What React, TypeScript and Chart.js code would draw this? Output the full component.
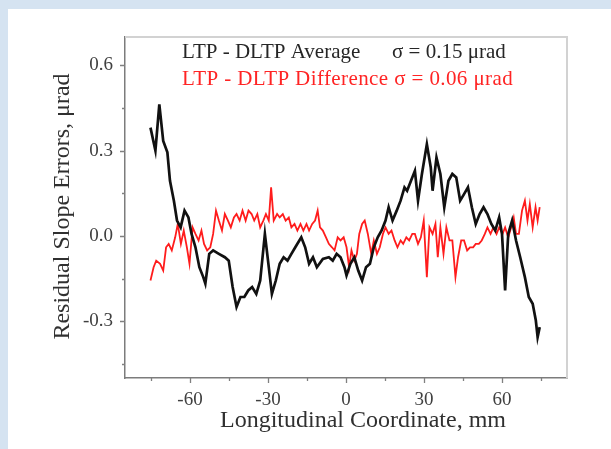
import React, { useEffect, useRef } from 'react';
import { Chart, registerables } from 'chart.js';

Chart.register(...registerables);

// ---- Data ----
const avgX = [
  -75.2, -73.3, -71.8, -70.3, -68.7, -67.7, -66.2, -65.0, -63.6, -62.1,
  -60.6, -59.4, -57.9, -56.4, -54.9, -54.1, -52.6, -51.1, -48.9, -46.6,
  -45.1, -43.6, -42.1, -40.6, -39.1, -37.6, -36.1, -34.5, -33.0, -31.2,
  -29.7, -28.5, -27.0, -25.5, -24.0, -22.5, -21.0, -19.5, -17.2, -15.7,
  -14.2, -12.7, -11.2, -8.9, -6.6, -5.1, -3.6, -2.1, -0.6, 0.2,
  1.7, 3.2, 4.7, 6.2, 7.7, 9.2, 10.7, 12.2, 13.7, 15.2,
  16.4, 17.9, 19.5, 21.0, 22.5, 23.5, 25.0, 26.5, 27.7, 29.2,
  31.1, 32.6, 33.3, 34.8, 36.3, 37.8, 39.4, 40.9, 42.4, 43.9,
  45.4, 46.9, 48.4, 49.9, 51.4, 52.9, 54.4, 55.9, 57.4, 58.9,
  60.0, 61.2, 62.4, 63.9, 65.4, 67.0, 68.8, 70.3, 71.8, 73.0,
  73.7, 74.5,
];
const avgY = [
  0.381, 0.3, 0.463, 0.334, 0.294, 0.194, 0.124, 0.054, 0.03, 0.089,
  0.065, 0.007, -0.04, -0.11, -0.145, -0.168, -0.063, -0.051, -0.063, -0.075,
  -0.087, -0.18, -0.25, -0.215, -0.215, -0.192, -0.18, -0.204, -0.157, 0.007,
  -0.11, -0.204, -0.157, -0.098, -0.075, -0.087, -0.063, -0.04, -0.005, -0.04,
  -0.098, -0.075, -0.11, -0.081, -0.075, -0.087, -0.063, -0.075, -0.11, -0.139,
  -0.098, -0.075, -0.122, -0.157, -0.11, -0.098, -0.04, -0.005, 0.019, 0.054,
  0.101, 0.054, 0.089, 0.124, 0.171, 0.159, 0.194, 0.229, 0.124, 0.218,
  0.323, 0.241, 0.159, 0.276, 0.218, 0.101, 0.194, 0.218, 0.206, 0.124,
  0.147, 0.171, 0.101, 0.042, 0.077, 0.101, 0.077, 0.042, 0.019, 0.065,
  0.007, -0.192, 0.007, 0.054, -0.016, -0.075, -0.145, -0.215, -0.239, -0.297,
  -0.356, -0.321,
];
const diffX = [
  -75.2, -74.0, -73.0, -71.5, -70.3, -69.2, -68.2, -67.0, -65.7, -64.7,
  -63.5, -62.4, -61.2, -60.2, -59.0, -57.9, -56.7, -55.6, -54.6, -53.4,
  -52.2, -51.1, -50.0, -48.9, -47.7, -46.6, -45.4, -44.3, -43.1, -42.1,
  -40.9, -39.8, -38.6, -37.5, -36.3, -35.3, -34.1, -33.0, -31.8, -30.8,
  -29.7, -28.8, -27.8, -26.5, -25.5, -24.3, -23.2, -22.0, -21.0, -19.8,
  -18.7, -17.5, -16.4, -15.2, -14.2, -13.0, -11.9, -10.9, -10.0, -8.9,
  -7.7, -6.6, -5.4, -4.4, -3.2, -2.1, -0.9, 0.2, 1.2, 2.1,
  3.2, 4.2, 5.1, 6.2, 7.2, 8.4, 9.7, 10.7, 11.9, 13.0,
  14.2, 15.2, 16.4, 17.5, 18.7, 19.8, 21.0, 22.0, 23.2, 24.3,
  25.5, 26.5, 27.7, 28.8, 29.9, 31.1, 32.1, 33.3, 34.4, 35.3,
  36.3, 37.5, 38.6, 39.8, 40.9, 42.1, 43.1, 44.3, 45.4, 46.6,
  47.7, 48.9, 49.9, 51.1, 52.2, 53.4, 54.4, 55.6, 56.7, 57.9,
  58.9, 60.2, 61.2, 62.4, 63.5, 64.5, 65.4, 66.5, 67.7, 68.8,
  69.8, 70.7, 71.8, 72.9, 73.7, 74.5,
];
const diffY = [
  -0.157, -0.11, -0.087, -0.098, -0.122, -0.04, -0.028, -0.051, -0.005, 0.042,
  -0.028, 0.019, -0.04, -0.098, 0.03, 0.007, -0.016, 0.019, -0.028, -0.051,
  -0.04, 0.007, 0.089, 0.054, 0.019, 0.077, 0.054, 0.03, 0.065, 0.077,
  0.054, 0.089, 0.054, 0.089, 0.077, 0.054, 0.077, 0.03, 0.054, 0.077,
  0.054, 0.171, 0.054, 0.077, 0.065, 0.077, 0.054, 0.065, 0.03, 0.042,
  0.019, 0.042, 0.019, 0.042, 0.019, 0.042, 0.054, 0.089, 0.03, 0.019,
  -0.005, -0.028, -0.04, -0.051, -0.005, -0.016, -0.005, -0.04, -0.11, -0.051,
  -0.087, -0.063, 0.007, 0.042, 0.054, 0.007, -0.063, -0.016, -0.063, -0.04,
  0.007, 0.03, 0.007, 0.019, -0.016, -0.04, -0.016, -0.028, -0.005, -0.016,
  0.007, 0.007, -0.028, -0.005, 0.054, -0.145, 0.03, 0.007, 0.042, -0.075,
  0.03, -0.063, 0.03, -0.016, -0.016, -0.145, -0.075, -0.016, -0.016, -0.051,
  -0.04, -0.04, -0.028, -0.028, -0.016, 0.007, 0.03, 0.007, 0.03, 0.007,
  0.03, 0.007, 0.03, -0.005, 0.03, 0.065, 0.007, 0.007, 0.089, 0.124,
  0.054, 0.112, 0.03, 0.101, 0.054, 0.101,
];

const xTickValues = [-75, -60, -45, -30, -15, 0, 15, 30, 45, 60, 75];
const xLabelValues = [-60, -30, 0, 30, 60];
const yTickValues = [-0.45, -0.3, -0.15, 0, 0.15, 0.3, 0.45, 0.6];
const yLabelValues = [-0.3, 0, 0.3, 0.6];

const legendAvg = 'LTP - DLTP Average';
const sigmaAvg = 'σ = 0.15 μrad';
const legendDiff = 'LTP - DLTP Difference σ = 0.06 μrad';
const xTitle = 'Longitudinal Coordinate, mm';
const yTitle = 'Residual Slope Errors, μrad';

const SERIF = '"Liberation Serif", "DejaVu Serif", "Times New Roman", serif';

const isLabel = (list: number[], v: number) => list.some((l) => Math.abs(l - v) < 1e-9);

const decorPlugin = {
  id: 'decor',
  beforeDatasetsDraw(chart: any) {
    const { ctx, chartArea: a, scales } = chart;
    const x = scales.x;
    const y = scales.y;
    ctx.save();
    // light top and right frame
    ctx.strokeStyle = '#d2d2d2';
    ctx.lineWidth = 2;
    ctx.beginPath();
    ctx.moveTo(a.left, a.top);
    ctx.lineTo(a.right, a.top);
    ctx.lineTo(a.right, a.bottom);
    ctx.stroke();
    // outward ticks
    ctx.strokeStyle = '#808080';
    ctx.lineWidth = 1.3;
    ctx.beginPath();
    xTickValues.forEach((v) => {
      const px = Math.round(x.getPixelForValue(v)) + 0.5;
      const len = isLabel(xLabelValues, v) ? 5 : 3;
      ctx.moveTo(px, a.bottom);
      ctx.lineTo(px, a.bottom + len);
    });
    yTickValues.forEach((v) => {
      const py = Math.round(y.getPixelForValue(v)) + 0.5;
      const len = isLabel(yLabelValues, v) ? 5 : 3;
      ctx.moveTo(a.left, py);
      ctx.lineTo(a.left - len, py);
    });
    ctx.stroke();
    ctx.restore();
  },
  afterDraw(chart: any) {
    const { ctx, chartArea: a } = chart;
    ctx.save();
    // legend text inside the plot
    ctx.textAlign = 'left';
    ctx.textBaseline = 'middle';
    ctx.font = `21px ${SERIF}`;
    ctx.fillStyle = '#262626';
    ctx.fillText(legendAvg, a.left + 57, a.top + 15);
    ctx.fillText(sigmaAvg, a.left + 267, a.top + 15);
    ctx.fillStyle = '#ff2424';
    try {
      (ctx as any).letterSpacing = '0.4px';
    } catch (e) {
      /* ignore */
    }
    ctx.fillText(legendDiff, a.left + 57, a.top + 42);
    try {
      (ctx as any).letterSpacing = '0px';
    } catch (e) {
      /* ignore */
    }
    // axis titles
    ctx.font = `24px ${SERIF}`;
    ctx.fillStyle = '#303030';
    ctx.textAlign = 'center';
    ctx.fillText(xTitle, 363, 421);
    ctx.translate(63, (a.top + a.bottom) / 2 - 1);
    ctx.rotate(-Math.PI / 2);
    ctx.fillText(yTitle, 0, 0);
    ctx.restore();
  },
};

export default function App() {
  const canvasRef = useRef<HTMLCanvasElement | null>(null);

  useEffect(() => {
    document.body.style.margin = '0';
    const canvas = canvasRef.current;
    if (!canvas) return;
    const chart = new Chart(canvas, {
      type: 'scatter',
      data: {
        datasets: [
          {
            label: legendAvg,
            data: avgX.map((v, i) => ({ x: v, y: avgY[i] })),
            showLine: true,
            borderColor: '#111111',
            borderWidth: 2.7,
            pointRadius: 0,
            tension: 0,
            fill: false,
          },
          {
            label: legendDiff,
            data: diffX.map((v, i) => ({ x: v, y: diffY[i] })),
            showLine: true,
            borderColor: '#ff1c1c',
            borderWidth: 1.8,
            pointRadius: 0,
            tension: 0,
            fill: false,
          },
        ],
      },
      options: {
        responsive: false,
        animation: false,
        devicePixelRatio: 1,
        layout: { padding: { top: 37, right: 44, left: 0, bottom: 0 } },
        plugins: {
          legend: { display: false },
          tooltip: { enabled: false },
          title: { display: false },
        },
        scales: {
          x: {
            type: 'linear',
            position: 'bottom',
            min: -85,
            max: 85,
            afterBuildTicks: (s: any) => {
              s.ticks = xTickValues.map((v) => ({ value: v }));
            },
            afterFit: (s: any) => {
              s.height = 71;
            },
            ticks: {
              autoSkip: false,
              maxRotation: 0,
              padding: 6,
              color: '#404040',
              font: { family: SERIF, size: 19 },
              callback: (v: any) => (isLabel(xLabelValues, Number(v)) ? String(v) : ''),
            },
            grid: {
              display: true,
              drawOnChartArea: false,
              drawTicks: true,
              tickLength: 5,
              color: 'rgba(0,0,0,0)',
            },
            border: { display: true, color: '#7c7c7c', width: 1.5 },
          },
          y: {
            type: 'linear',
            position: 'left',
            min: -0.5,
            max: 0.7,
            afterBuildTicks: (s: any) => {
              s.ticks = yTickValues.map((v) => ({ value: v }));
            },
            afterFit: (s: any) => {
              s.width = 125;
            },
            ticks: {
              autoSkip: false,
              padding: 7,
              color: '#404040',
              font: { family: SERIF, size: 19 },
              callback: (v: any) =>
                isLabel(yLabelValues, Number(v)) ? Number(v).toFixed(1) : '',
            },
            grid: {
              display: true,
              drawOnChartArea: false,
              drawTicks: true,
              tickLength: 5,
              color: 'rgba(0,0,0,0)',
            },
            border: { display: true, color: '#7c7c7c', width: 1.5 },
          },
        },
      } as any,
      plugins: [decorPlugin],
    });
    return () => chart.destroy();
  }, []);

  return (
    <div
      style={{
        position: 'fixed',
        left: 0,
        top: 0,
        width: 611,
        height: 449,
        background: '#d5e3f1',
        overflow: 'hidden',
      }}
    >
      <div
        style={{
          position: 'absolute',
          left: 8,
          top: 9,
          right: 0,
          bottom: 0,
          background: '#ffffff',
        }}
      />
      <canvas
        ref={canvasRef}
        width={611}
        height={449}
        style={{ position: 'absolute', left: 0, top: 0, width: 611, height: 449, display: 'block' }}
      />
    </div>
  );
}
